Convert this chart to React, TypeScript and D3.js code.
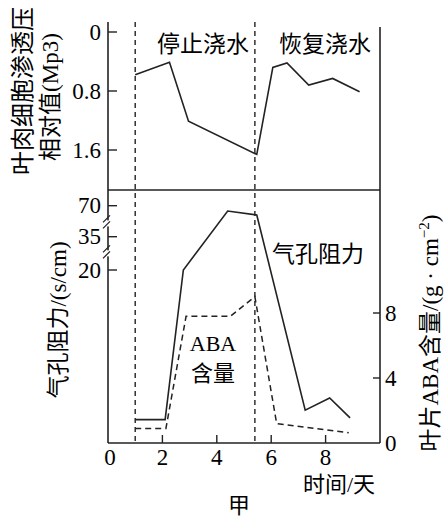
import React from "react";
import * as d3 from "d3";

// Top panel: mesophyll osmotic pressure (relative)
const osmDays = [1.0, 2.26, 2.96, 5.47, 6.06, 6.58, 7.38, 8.26, 9.25];
const osmValues = [0.58, 0.41, 1.21, 1.66, 0.48, 0.42, 0.72, 0.63, 0.81];
const osmTicks = [0, 0.8, 1.6];
const osmTickLabels = ["0", "0.8", "1.6"];

// Bottom panel: stomatal resistance (s/cm), broken axis
const resDays = [1.0, 2.1, 2.77, 4.4, 5.47, 7.25, 8.15, 8.9];
const resValues = [2.7, 2.7, 20, 64, 59.5, 3.8, 5.2, 2.9];
const resTicks = [20, 35, 70];
const resBreaks = [27.5, 50];

// Bottom panel: leaf ABA content (right axis)
const abaDays = [1.0, 2.13, 2.87, 4.5, 5.4, 6.2, 8.85];
const abaValues = [0.9, 0.9, 7.8, 7.8, 9.0, 1.2, 0.63];
const abaTicks = [0, 4, 8];

const xTicks = [2, 4, 6, 8];
const xTickLabels = ["0", "2", "4", "6", "8"];
const eventDays = [1.0, 5.4];

const FONT = '"Liberation Serif","Noto Sans CJK SC",serif';
const CJK = '"Noto Sans CJK SC","Liberation Serif",serif';

export default function App() {
  const W = 446, H = 517;
  const x = d3.scaleLinear().domain([0, 10]).range([108, 380]);
  const yTop = d3.scaleLinear().domain([0, 1.6]).range([32, 150]);
  const yRes = d3.scaleLinear().domain([0, 20, 35, 70]).range([443, 270, 236.7, 205.7]);
  const yAba = d3.scaleLinear().domain([0, 8]).range([443, 313]);

  const lineOsm = d3.line<number>().x((_, i) => x(osmDays[i])).y((d) => yTop(d));
  const lineRes = d3.line<number>().x((_, i) => x(resDays[i])).y((d) => yRes(d));
  const lineAba = d3.line<number>().x((_, i) => x(abaDays[i])).y((d) => yAba(d));

  const x0 = x(0), x1 = x(10);
  const yBottom = yRes(0);
  const stroke = "#222";

  return (
    <svg width={W} height={H} style={{ position: "absolute", left: 0, top: 0, background: "#fff" }}
      fontFamily={FONT}>
      {/* frame */}
      <line x1={x0} x2={x0} y1={22} y2={yBottom} stroke={stroke} strokeWidth={1.6} />
      <line x1={x1} x2={x1} y1={27} y2={yBottom} stroke={stroke} strokeWidth={1.6} />
      <line x1={x0} x2={x1} y1={yBottom} y2={yBottom} stroke={stroke} strokeWidth={1.6} />
      <line x1={x0} x2={x1} y1={190} y2={190} stroke={stroke} strokeWidth={1.6} />

      {/* event dashed verticals */}
      {eventDays.map((d, i) => (
        <line key={"ev" + i} x1={x(d)} x2={x(d)} y1={22} y2={yBottom} stroke={stroke}
          strokeWidth={1.4} strokeDasharray="5,4" />
      ))}

      {/* top axis ticks */}
      {osmTicks.map((t, i) => (
        <g key={"ot" + i}>
          <line x1={x0} x2={x0 + 9} y1={yTop(t)} y2={yTop(t)} stroke={stroke} strokeWidth={1.4} />
          <text x={x0 - 7} y={yTop(t)} textAnchor="end" dominantBaseline="central" fontSize={23}>
            {osmTickLabels[i]}
          </text>
        </g>
      ))}

      {/* bottom-left axis ticks */}
      {resTicks.map((t, i) => (
        <g key={"rt" + i}>
          <line x1={x0} x2={x0 + 9} y1={yRes(t)} y2={yRes(t)} stroke={stroke} strokeWidth={1.4} />
          <text x={x0 - 7} y={yRes(t)} textAnchor="end" dominantBaseline="central" fontSize={23}>
            {t}
          </text>
        </g>
      ))}
      {resBreaks.map((b, i) => {
        const yb = yRes(b);
        return (
          <g key={"br" + i}>
            <rect x={x0 - 2} y={yb - 3} width={4} height={6} fill="#fff" />
            <path d={`M${x0 + 2},${yb - 8} L${x0 - 5},${yb - 1}`} stroke={stroke} strokeWidth={1.3} fill="none" />
            <path d={`M${x0 + 2},${yb - 2} L${x0 - 5},${yb + 5}`} stroke={stroke} strokeWidth={1.3} fill="none" />
          </g>
        );
      })}

      {/* right axis ticks */}
      {abaTicks.map((t, i) => (
        <g key={"at" + i}>
          {t !== 0 && (
            <line x1={x1 - 7} x2={x1} y1={yAba(t)} y2={yAba(t)} stroke={stroke} strokeWidth={1.4} />
          )}
          <text x={x1 + 5} y={yAba(t)} textAnchor="start" dominantBaseline="central" fontSize={23}>
            {t}
          </text>
        </g>
      ))}

      {/* x axis ticks */}
      {xTicks.map((t, i) => (
        <line key={"xt" + i} x1={x(t)} x2={x(t)} y1={yBottom} y2={yBottom - 8} stroke={stroke} strokeWidth={1.4} />
      ))}
      {[0, ...xTicks].map((t, i) => (
        <text key={"xl" + i} x={x(t) + (t === 0 ? 2 : 0)} y={457} textAnchor="middle"
          dominantBaseline="central" fontSize={23}>
          {xTickLabels[i]}
        </text>
      ))}

      {/* data lines */}
      <path d={lineOsm(osmValues) || ""} fill="none" stroke={stroke} strokeWidth={1.6} strokeLinejoin="miter" />
      <path d={lineRes(resValues) || ""} fill="none" stroke={stroke} strokeWidth={1.6} />
      <path d={lineAba(abaValues) || ""} fill="none" stroke={stroke} strokeWidth={1.5} strokeDasharray="6,4" />

      {/* annotations */}
      <text x={203} y={42} textAnchor="middle" dominantBaseline="central" fontSize={23} fontFamily={CJK}>停止浇水</text>
      <text x={325} y={42} textAnchor="middle" dominantBaseline="central" fontSize={23} fontFamily={CJK}>恢复浇水</text>
      <text x={272} y={252} textAnchor="start" dominantBaseline="central" fontSize={23} fontFamily={CJK}>气孔阻力</text>
      <text x={213} y={343} textAnchor="middle" dominantBaseline="central" fontSize={22}>ABA</text>
      <text x={213} y={371} textAnchor="middle" dominantBaseline="central" fontSize={22} fontFamily={CJK}>含量</text>
      <text x={303} y={484} textAnchor="start" dominantBaseline="central" fontSize={22}>时间/天</text>
      <text x={239} y={505} textAnchor="middle" dominantBaseline="central" fontSize={22}>甲</text>

      {/* axis titles */}
      <text transform="translate(23,91) rotate(-90)" textAnchor="middle" dominantBaseline="central" fontSize={24}>
        叶肉细胞渗透压
      </text>
      <text transform="translate(50,97) rotate(-90)" textAnchor="middle" dominantBaseline="central" fontSize={23}>
        相对值(Mp3)
      </text>
      <text transform="translate(58,320) rotate(-90)" textAnchor="middle" dominantBaseline="central" fontSize={23}>
        气孔阻力/(s/cm)
      </text>
      <text transform="translate(430,333) rotate(-90)" textAnchor="middle" fontSize={23} dy="0.35em">
        叶片ABA含量/(g · cm<tspan dy={-9} fontSize={15}>−2</tspan><tspan dy={9}>)</tspan>
      </text>
    </svg>
  );
}
